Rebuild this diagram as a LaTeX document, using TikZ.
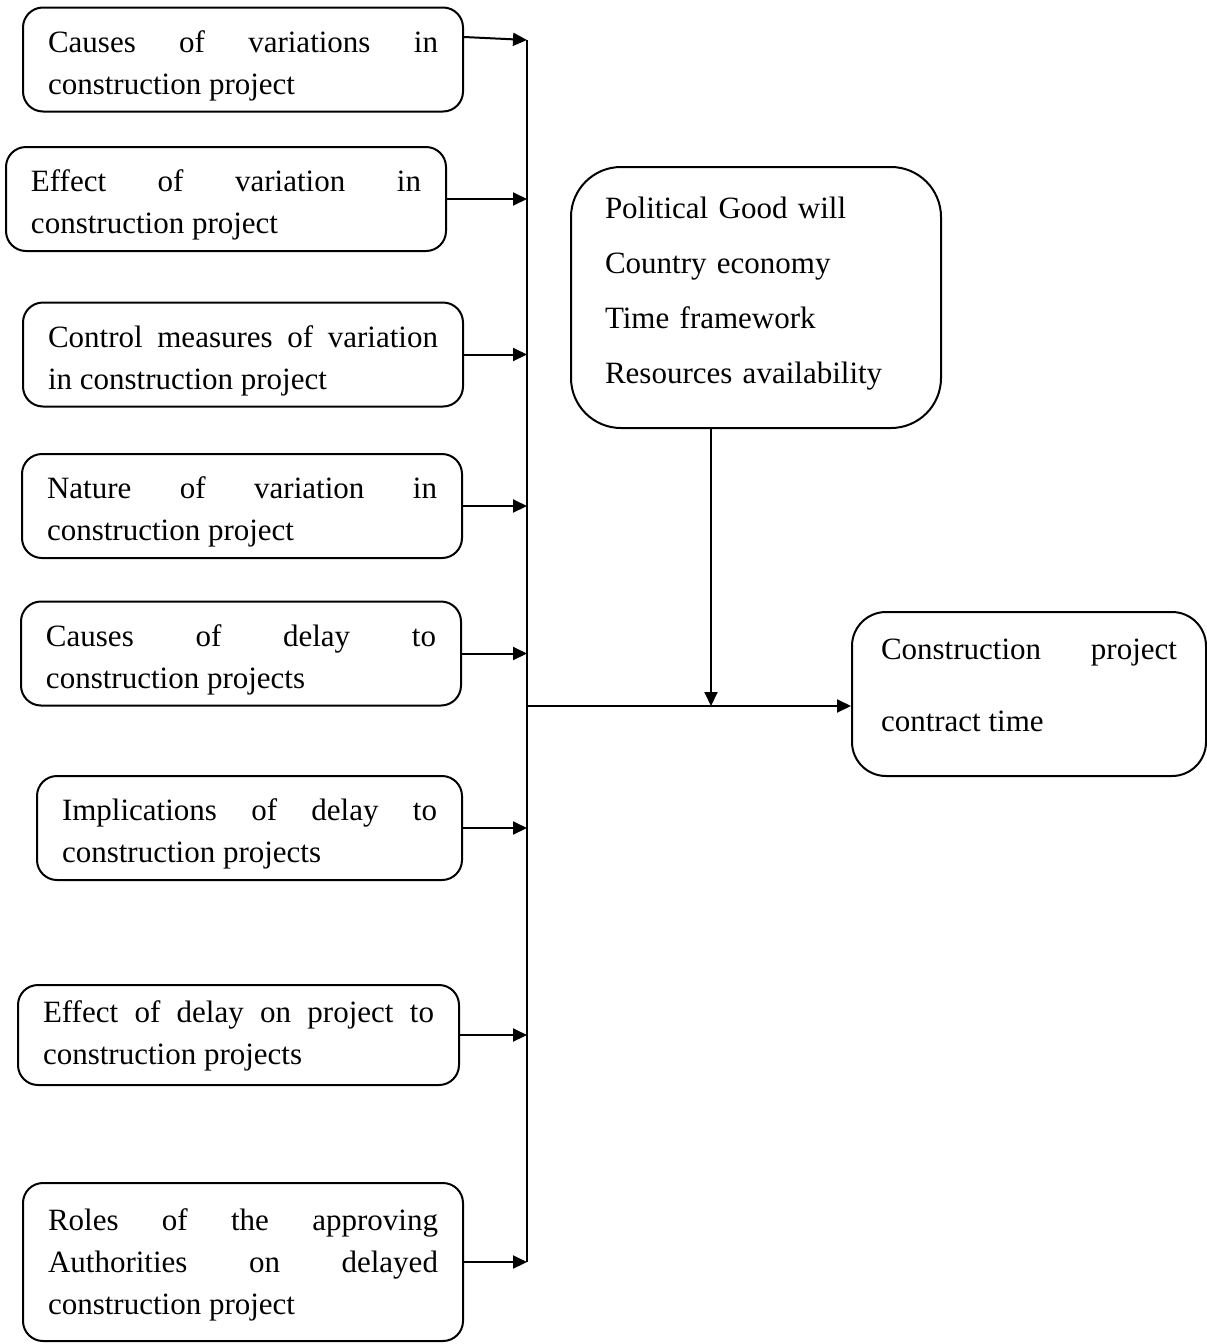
\documentclass[tikz,border=0pt]{standalone}
\usepackage{fontspec}
\setmainfont{Liberation Serif}
\usetikzlibrary{arrows.meta}

\begin{document}
\begin{tikzpicture}[x=0.5pt,y=-0.5pt,
	factor/.style={draw,line width=1pt,rounded corners=10pt,anchor=west,text width=195pt,inner xsep=12.5pt,inner ysep=0pt,minimum height=52pt,text height=15pt,text depth=22.5pt,align=justify,font=\fontsize{15.5pt}{21pt}\selectfont},
	link/.style={line width=1pt,-{Triangle[length=7pt,width=6.5pt]}}]
	\useasboundingbox (0,0) rectangle (1206,1344);
	% factors on the left
	\node[factor] (cv) at (22,59.5) {Causes of variations in\linebreak construction project};
	\node[factor] (ev) at (5,199) {Effect of variation in\linebreak construction project};
	\node[factor] (cm) at (22,354.5) {Control measures of variation\linebreak in construction project};
	\node[factor] (nv) at (21,506) {Nature of variation in\linebreak construction project};
	\node[factor] (cd) at (20,653.5) {Causes of delay to\linebreak construction projects};
	\node[factor,text width=187.5pt] (id) at (36,828) {Implications of delay to\linebreak construction projects};
	\node[factor,text width=195.5pt,minimum height=50pt,text height=13.5pt,text depth=26.5pt] (ed) at (17,1035) {Effect of delay on project to\linebreak construction projects};
	\node[factor,minimum height=79pt,text depth=47pt] (ra) at (22,1262) {Roles of the approving\linebreak Authorities on delayed\linebreak construction project};
	% moderating box and outcome
	\node[factor,text width=151pt,inner xsep=17pt,minimum height=130.5pt,text depth=94.5pt,rounded corners=25pt,align=left,font=\fontsize{15.5pt}{27.5pt}\selectfont] (pg) at (570,297.5) {Political Good will\\ Country economy\\ Time framework\\ Resources availability};
	\node[factor,text width=148pt,inner xsep=14.5pt,minimum height=82pt,text depth=50pt,rounded corners=17pt,font=\fontsize{15.5pt}{36pt}\selectfont] (ct) at (851,694) {Construction project\linebreak contract time};

	\coordinate (bx) at (527,0);
	\coordinate (t0) at ([yshift=11.25pt]cv.east);
	\coordinate (t1) at ([yshift=9.75pt]cv.east);
	\draw[link] (t0) -- (t1 -| bx);
	\foreach \n in {ev,cm,nv,cd,id,ed,ra} {
		\draw[link] (\n.east) -- (\n.east -| bx);
	}
	\draw[line width=1pt] (t1 -| bx) -- (ra.east -| bx);
	\coordinate (ci) at ([yshift=-6pt]ct.west);
	\coordinate (jn) at (ci -| bx);
	\draw[link] (jn) -- (ci);
	\coordinate (po) at ([xshift=-22.5pt]pg.south);
	\draw[link] (po) -- (po |- jn);
\end{tikzpicture}
\end{document}
